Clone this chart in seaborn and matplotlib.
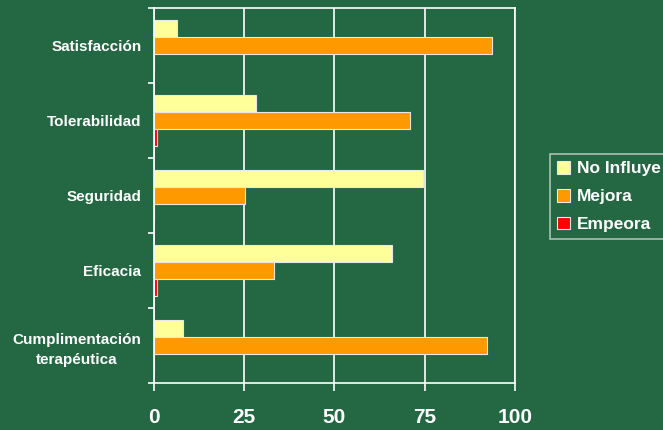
import numpy as np
import pandas as pd
import seaborn as sns
import matplotlib.pyplot as plt

# Data
categories = ['Satisfacción', 'Tolerabilidad', 'Seguridad', 'Eficacia',
              'Cumplimentación\nterapéutica']
no_influye = [6.3, 28.3, 74.5, 66.0, 8.0]
mejora = [93.6, 70.9, 25.2, 33.3, 92.2]
empeora = [0.0, 0.7, 0.0, 0.7, 0.0]
series = ['No Influye', 'Mejora', 'Empeora']
colors = ['#FFFF99', '#FF9900', '#FF0000']

bg = '#236843'

df = pd.DataFrame({
    'Categoria': categories * 3,
    'Serie': [s for s in series for _ in categories],
    'Valor': no_influye + mejora + empeora,
})

sns.set_style('ticks')
plt.rcParams['font.family'] = ['Liberation Sans', 'DejaVu Sans']

fig = plt.figure(figsize=(6.63, 4.3), dpi=100, facecolor=bg)
ax = fig.add_axes([154 / 663, 47 / 430, 361 / 663, 375 / 430])
ax.set_facecolor(bg)

sns.barplot(data=df, x='Valor', y='Categoria', hue='Serie', hue_order=series,
            order=categories, palette=colors, orient='h', width=0.68,
            edgecolor='#e8e8e8', linewidth=0.8, saturation=1, ax=ax,
            legend=True)

ax.set_xlim(0, 100)
ax.set_ylim(4.5, -0.5)
ax.set_xticks([0, 25, 50, 75, 100])
ax.xaxis.grid(True, color='white', linewidth=1.2)
ax.set_axisbelow(True)
ax.set_xlabel('')
ax.set_ylabel('')

for s in ax.spines.values():
    s.set_color('white')
    s.set_linewidth(1.2)
    s.set_visible(True)

ax.tick_params(axis='x', colors='white', length=6, width=1.2, pad=12)
for lab in ax.get_xticklabels():
    lab.set_fontsize(15)
    lab.set_fontweight('bold')
    lab.set_color('white')

ax.set_yticks(range(len(categories)))
ax.set_yticklabels(categories, fontsize=11, fontweight='bold', color='white',
                   ha='right', multialignment='center', linespacing=1.55)
ax.tick_params(axis='y', which='major', length=0, pad=9)
ax.set_yticks(np.arange(-0.5, len(categories)), minor=True)
ax.tick_params(axis='y', which='minor', length=4, width=1.2, color='white')

handles, labels = ax.get_legend_handles_labels()
ax.legend_.remove()
leg = fig.legend(handles, labels, loc='upper left',
                 bbox_to_anchor=(550 / 663, 1 - 154 / 430),
                 frameon=True, fancybox=False, facecolor=bg, edgecolor='#d0d0d0',
                 handlelength=0.75, handleheight=0.75, handletextpad=0.4,
                 labelspacing=0.72, borderpad=0.4, borderaxespad=0,
                 prop={'size': 12.5, 'weight': 'bold'})
leg.get_frame().set_linewidth(1.2)
for t in leg.get_texts():
    t.set_color('white')

fig.savefig('out.png', dpi=100, facecolor=bg)
